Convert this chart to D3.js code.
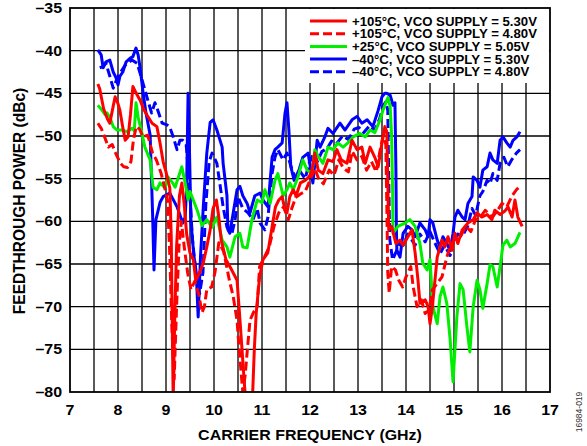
<!DOCTYPE html>
<html>
<head>
<meta charset="utf-8">
<script src="https://d3js.org/d3.v7.min.js"></script>
<style>
  body { margin: 0; background: #fff; }
  text { font-family: Arial, "Liberation Sans", Helvetica, sans-serif; font-weight: bold; fill: #000; }
</style>
</head>
<body>
<div id="viz"></div>
<script>
var width = 587;
var height = 446;

// data: [frequency GHz, feedthrough dBc]
var redSolid = [[7.58,-43.9],[7.62,-44.5],[7.7,-46.8],[7.78,-48.0],[7.83,-48.5],[7.9,-46.5],[7.94,-45.4],[8.0,-46.2],[8.04,-47.0],[8.1,-49.0],[8.15,-50.5],[8.21,-50.1],[8.26,-47.5],[8.31,-44.2],[8.38,-45.0],[8.46,-45.8],[8.53,-46.8],[8.6,-47.5],[8.71,-48.5],[8.81,-48.9],[8.875,-50.8],[8.94,-53.0],[9.0,-54.2],[9.08,-56.1],[9.11,-62],[9.13,-72],[9.15,-81],[9.18,-72],[9.22,-63],[9.28,-57],[9.33,-55.5],[9.38,-58],[9.43,-61.5],[9.5,-63.7],[9.57,-64.5],[9.62,-66.9],[9.7,-66],[9.78,-64.8],[9.85,-63],[9.92,-61],[9.98,-58.5],[10.05,-57.5],[10.1,-59.5],[10.15,-62.2],[10.25,-64.5],[10.35,-65.5],[10.48,-66.9],[10.53,-70.7],[10.58,-74.7],[10.62,-78],[10.66,-81],[10.8,-81],[10.84,-75],[10.88,-70.7],[10.95,-66.5],[11.02,-64.5],[11.12,-63.7],[11.2,-61],[11.28,-58.3],[11.35,-57.5],[11.42,-57.1],[11.48,-58.7],[11.52,-59.0],[11.58,-57.1],[11.65,-56.3],[11.71,-57.0],[11.8,-55.5],[11.9,-55.2],[11.98,-54.8],[12.04,-54.0],[12.1,-52.0],[12.17,-54.0],[12.27,-54.4],[12.375,-52.8],[12.48,-53.0],[12.56,-51.6],[12.65,-52.8],[12.77,-53.2],[12.875,-50.5],[12.98,-51.6],[13.08,-51.3],[13.15,-53.2],[13.25,-51.3],[13.35,-52.5],[13.42,-53.6],[13.5,-50.8],[13.56,-48.9],[13.6,-49.5],[13.62,-55],[13.64,-61],[13.7,-60.6],[13.79,-62.6],[13.875,-62.2],[13.94,-62.8],[14.04,-61.8],[14.125,-61.0],[14.19,-63.7],[14.25,-66.9],[14.29,-69.6],[14.4,-69.2],[14.46,-70.0],[14.5,-72],[14.55,-70],[14.65,-64.2],[14.75,-62.2],[14.81,-63],[14.875,-61.8],[14.96,-63.4],[15.02,-61.4],[15.08,-62.6],[15.17,-61],[15.23,-60.6],[15.29,-60.2],[15.4,-59.8],[15.48,-59.0],[15.58,-59.5],[15.69,-59.2],[15.79,-59.8],[15.85,-58.7],[15.96,-59.2],[16.06,-58.8],[16.125,-58.3],[16.21,-59.5],[16.27,-57.5],[16.33,-59.5],[16.42,-60.6]];

var redDashed = [[7.58,-48.5],[7.65,-49.1],[7.72,-50.1],[7.8,-51.3],[7.88,-51.0],[7.95,-52.0],[8.05,-53.2],[8.12,-53.6],[8.2,-53.7],[8.27,-53.0],[8.32,-50.5],[8.38,-48.9],[8.45,-49.2],[8.52,-50.1],[8.62,-49.9],[8.72,-52.0],[8.8,-52.8],[8.9,-54.4],[8.97,-56.0],[9.03,-57.5],[9.08,-64],[9.12,-72],[9.17,-78.5],[9.22,-70],[9.27,-63],[9.32,-60],[9.38,-63],[9.45,-66],[9.52,-68],[9.6,-67],[9.68,-68.5],[9.75,-70.7],[9.8,-70],[9.85,-68],[9.95,-67.7],[10.02,-66],[10.1,-62.5],[10.2,-63.5],[10.32,-66.9],[10.4,-68.8],[10.48,-71.6],[10.52,-74.7],[10.56,-77.4],[10.6,-80],[10.65,-78],[10.7,-74.7],[10.75,-71.6],[10.82,-70.7],[10.9,-70],[10.95,-65.3],[11.05,-64.2],[11.15,-63],[11.25,-60.6],[11.35,-59],[11.45,-58.3],[11.55,-59.8],[11.62,-58.5],[11.7,-57.2],[11.8,-56.8],[11.9,-56.5],[12.0,-55.2],[12.1,-53.8],[12.18,-55.0],[12.28,-55.6],[12.4,-54.0],[12.5,-54.6],[12.6,-52.8],[12.7,-53.8],[12.8,-54.2],[12.88,-51.8],[12.98,-52.8],[13.08,-52.4],[13.18,-54.0],[13.28,-53.0],[13.38,-54.2],[13.45,-52.0],[13.52,-50.0],[13.58,-51],[13.6,-58],[13.62,-66],[13.65,-68.4],[13.7,-65.3],[13.78,-65.7],[13.85,-66.9],[13.93,-67.7],[14.0,-66.5],[14.1,-65.3],[14.15,-67.7],[14.23,-70.0],[14.32,-69.2],[14.4,-70.8],[14.48,-70.4],[14.55,-68.0],[14.65,-67.3],[14.75,-66.5],[14.85,-64.2],[14.92,-63.0],[15.02,-62.0],[15.13,-61.8],[15.25,-60.6],[15.35,-61.2],[15.45,-59.8],[15.55,-59.5],[15.65,-58.7],[15.8,-59.5],[15.9,-58.8],[16.0,-57.9],[16.1,-58.3],[16.2,-57.1],[16.3,-56.3],[16.37,-55.9]];

var green = [[7.58,-46.4],[7.67,-47.0],[7.73,-47.5],[7.77,-47.3],[7.83,-47.8],[7.9,-48.9],[7.98,-49.3],[8.08,-49.3],[8.19,-49.5],[8.29,-49.1],[8.34,-49.4],[8.375,-46.1],[8.42,-47.8],[8.5,-49.7],[8.56,-51.3],[8.67,-52.8],[8.73,-56.0],[8.81,-56.3],[8.875,-55.5],[8.98,-56.1],[9.04,-54.8],[9.125,-55.4],[9.19,-56.0],[9.33,-53.6],[9.4,-55.5],[9.46,-57.5],[9.5,-56.5],[9.54,-57.1],[9.65,-58.7],[9.75,-60.5],[9.85,-59.8],[9.96,-60.7],[10.06,-59.5],[10.17,-62.2],[10.27,-63.0],[10.33,-64.2],[10.44,-61.8],[10.54,-61.4],[10.6,-63.0],[10.69,-63.1],[10.79,-59.8],[10.9,-57.5],[11.0,-57.8],[11.06,-56.3],[11.17,-57.9],[11.27,-55.2],[11.33,-54.4],[11.44,-57.0],[11.52,-56.3],[11.58,-55.5],[11.65,-56.3],[11.75,-54.8],[11.85,-52.8],[11.94,-54.0],[12.04,-54.4],[12.1,-51.6],[12.17,-52.4],[12.27,-53.2],[12.375,-51.3],[12.48,-51.6],[12.58,-50.8],[12.69,-51.3],[12.79,-50.8],[12.9,-50.1],[13.04,-49.7],[13.15,-50.1],[13.25,-49.3],[13.35,-49.6],[13.46,-48.1],[13.52,-47.0],[13.6,-45.8],[13.625,-45.5],[13.67,-46.5],[13.7,-50],[13.72,-56],[13.73,-61.4],[13.83,-60.6],[13.98,-60.2],[14.08,-59.8],[14.19,-60.6],[14.29,-62.6],[14.35,-64.9],[14.44,-65.7],[14.5,-64.5],[14.56,-70.0],[14.65,-72.0],[14.71,-68.8],[14.77,-67.7],[14.85,-69.6],[14.92,-73.9],[14.98,-78.8],[15.06,-71.2],[15.125,-67.3],[15.19,-68.0],[15.27,-72.4],[15.33,-75.3],[15.4,-70.0],[15.48,-66.9],[15.54,-68.0],[15.6,-70.2],[15.69,-67.3],[15.75,-65.1],[15.81,-65.3],[15.9,-67.7],[15.96,-65.3],[16.02,-62.8],[16.1,-62.2],[16.17,-63.0],[16.27,-62.6],[16.375,-61.3]];

var blueSolid = [[7.58,-39.9],[7.65,-40.5],[7.69,-42.0],[7.75,-41.3],[7.83,-41.1],[7.9,-42.5],[7.96,-43.2],[8.0,-44.0],[8.04,-43.0],[8.1,-42.5],[8.17,-41.3],[8.25,-40.9],[8.31,-40.7],[8.375,-39.7],[8.42,-40.5],[8.46,-42.0],[8.52,-44.8],[8.58,-47.2],[8.67,-49.9],[8.69,-53.7],[8.72,-59],[8.75,-65.7],[8.79,-59.8],[8.875,-57.8],[8.94,-57.1],[9.08,-56.7],[9.23,-58.3],[9.35,-60.2],[9.4,-59.5],[9.43,-56],[9.46,-45.0],[9.49,-52],[9.52,-60],[9.58,-64],[9.63,-66],[9.67,-71.2],[9.72,-64],[9.78,-58],[9.85,-52],[9.92,-48.4],[9.98,-48.1],[10.06,-49.3],[10.17,-51.3],[10.19,-53.2],[10.27,-57.0],[10.29,-61.0],[10.33,-61.4],[10.48,-56.3],[10.54,-55.9],[10.6,-57.0],[10.69,-57.9],[10.75,-59.0],[10.85,-57.0],[10.96,-56.7],[11.02,-57.5],[11.125,-58.3],[11.17,-55.2],[11.21,-52.5],[11.27,-51.6],[11.33,-51.3],[11.42,-50.8],[11.48,-47.3],[11.52,-46.1],[11.56,-49.3],[11.6,-53.6],[11.67,-55.2],[11.77,-54.0],[11.85,-52.5],[11.96,-52.0],[12.06,-55.5],[12.15,-50.5],[12.21,-51.3],[12.31,-50.1],[12.375,-49.1],[12.48,-49.7],[12.625,-48.5],[12.73,-49.3],[12.875,-48.1],[12.98,-47.7],[13.08,-48.5],[13.19,-48.1],[13.31,-48.9],[13.42,-47.0],[13.5,-45.4],[13.56,-45.0],[13.6,-45.0],[13.67,-45.2],[13.73,-46.4],[13.77,-46.1],[13.79,-54],[13.8,-61.0],[13.81,-63.4],[13.875,-64.2],[13.94,-61.4],[14.04,-60.6],[14.125,-61.0],[14.19,-61.8],[14.29,-60.2],[14.4,-61.0],[14.46,-61.8],[14.5,-59.8],[14.56,-60.2],[14.65,-62.2],[14.71,-63.0],[14.77,-61.8],[14.85,-62.6],[14.92,-63.4],[14.98,-61.4],[15.02,-59.5],[15.08,-58.7],[15.17,-59.5],[15.23,-59.8],[15.29,-57.9],[15.375,-57.1],[15.4,-54.8],[15.48,-55.2],[15.54,-56.0],[15.6,-54.0],[15.69,-53.6],[15.75,-52.0],[15.81,-52.8],[15.9,-53.2],[15.96,-50.5],[16.02,-50.1],[16.1,-50.8],[16.17,-51.3],[16.23,-50.5],[16.31,-50.1],[16.375,-49.5]];

var blueDashed = [[7.62,-42.0],[7.67,-41.9],[7.75,-41.5],[7.83,-43.0],[7.9,-44.4],[8.0,-43.0],[8.08,-42.3],[8.15,-41.7],[8.29,-41.1],[8.4,-41.5],[8.5,-43.4],[8.6,-45.4],[8.7,-47.3],[8.77,-46.1],[8.83,-47.0],[8.92,-48.5],[9.02,-48.7],[9.08,-49.0],[9.15,-50.1],[9.23,-51.6],[9.29,-50.5],[9.35,-50.5],[9.42,-51],[9.48,-55],[9.55,-62],[9.62,-66],[9.7,-68.5],[9.77,-66],[9.83,-58],[9.9,-53],[9.96,-52.0],[10.06,-53.2],[10.12,-55.5],[10.19,-58.3],[10.27,-60.7],[10.375,-61.4],[10.44,-59.8],[10.5,-57.1],[10.6,-58.5],[10.71,-59.0],[10.81,-59.8],[10.9,-58.5],[10.96,-60.2],[11.06,-61.0],[11.125,-59.5],[11.21,-54.4],[11.27,-52.5],[11.33,-51.6],[11.44,-52.8],[11.52,-52.0],[11.6,-53.5],[11.7,-55.0],[11.8,-54.2],[11.9,-55.0],[11.98,-53.2],[12.08,-52.0],[12.15,-53.0],[12.25,-51.8],[12.35,-51.5],[12.45,-50.6],[12.55,-50.9],[12.68,-50.0],[12.8,-50.4],[12.92,-49.2],[13.02,-49.0],[13.12,-49.6],[13.24,-48.8],[13.35,-49.3],[13.45,-48.0],[13.52,-46.5],[13.58,-46.0],[13.62,-47],[13.64,-55],[13.66,-62],[13.72,-64.5],[13.8,-63.5],[13.875,-62.5],[13.94,-62.8],[14.04,-61.5],[14.125,-62.2],[14.19,-62.8],[14.29,-61.5],[14.4,-62.4],[14.5,-61.2],[14.6,-62.5],[14.71,-63.8],[14.8,-62.8],[14.92,-64.0],[14.98,-62.4],[15.08,-61.5],[15.17,-61.8],[15.29,-60.5],[15.375,-58.5],[15.45,-59.3],[15.54,-57.0],[15.6,-56.5],[15.69,-55.2],[15.75,-55.6],[15.81,-54.4],[15.9,-55.2],[15.96,-53.2],[16.04,-52.5],[16.12,-53.6],[16.2,-52.8],[16.3,-52.0],[16.375,-51.6]];

var legendLabels = ["+105°C, VCO SUPPLY = 5.30V", "+105°C, VCO SUPPLY = 4.80V", "+25°C, VCO SUPPLY = 5.05V", "\u201340°C, VCO SUPPLY = 5.30V", "\u201340°C, VCO SUPPLY = 4.80V"];
var xTicks = [7, 8, 9, 10, 11, 12, 13, 14, 15, 16, 17];
var yTicks = [-80, -75, -70, -65, -60, -55, -50, -45, -40, -35];

var series = [
  {data: blueSolid, color: "#0000ff", dash: null, legend: 3},
  {data: blueDashed, color: "#0000ff", dash: "9,4", legend: 4},
  {data: green, color: "#00ee00", dash: null, legend: 2},
  {data: redDashed, color: "#ff0000", dash: "9,4", legend: 1},
  {data: redSolid, color: "#ff0000", dash: null, legend: 0}
];

var plotLeft = 70, plotRight = 550, plotTop = 8, plotBottom = 392;
var sx = 1.1; // text in the picture is a bit wide

var svg = d3.select("#viz")
  .append("svg")
  .attr("width", width)
  .attr("height", height);

var x = d3.scaleLinear().domain([7, 17]).range([plotLeft, plotRight]);
var y = d3.scaleLinear().domain([-80, -35]).range([plotBottom, plotTop]);

svg.append("clipPath").attr("id", "plot")
  .append("rect")
  .attr("x", plotLeft).attr("y", plotTop)
  .attr("width", plotRight - plotLeft).attr("height", plotBottom - plotTop);

// grid
svg.append("g")
  .selectAll("line")
  .data(d3.range(7.5, 17, 0.5))
  .enter().append("line")
  .attr("x1", function(d) { return x(d); })
  .attr("x2", function(d) { return x(d); })
  .attr("y1", plotTop).attr("y2", plotBottom)
  .attr("stroke", "#000").attr("stroke-width", 1.3);

svg.append("g")
  .selectAll("line")
  .data(yTicks.slice(1, -1))
  .enter().append("line")
  .attr("y1", function(d) { return y(d); })
  .attr("y2", function(d) { return y(d); })
  .attr("x1", plotLeft).attr("x2", plotRight)
  .attr("stroke", "#000").attr("stroke-width", 1.3);

// legend background hides the grid behind it
svg.append("rect")
  .attr("x", 305).attr("y", plotTop + 1)
  .attr("width", plotRight - 306).attr("height", 74)
  .attr("fill", "#fff");

// series
var line = d3.line()
  .x(function(d) { return x(d[0]); })
  .y(function(d) { return y(d[1]); });

svg.append("g")
  .attr("clip-path", "url(#plot)")
  .selectAll("path")
  .data(series)
  .enter().append("path")
  .attr("d", function(d) { return line(d.data); })
  .attr("fill", "none")
  .attr("stroke", function(d) { return d.color; })
  .attr("stroke-width", 3)
  .attr("stroke-linejoin", "round")
  .attr("stroke-dasharray", function(d) { return d.dash; });

// frame
svg.append("rect")
  .attr("x", plotLeft).attr("y", plotTop)
  .attr("width", plotRight - plotLeft).attr("height", plotBottom - plotTop)
  .attr("fill", "none").attr("stroke", "#000").attr("stroke-width", 1.8);

// tick labels
svg.append("g")
  .selectAll("text")
  .data(yTicks)
  .enter().append("text")
  .attr("transform", function(d) { return "translate(62," + (y(d) + 5) + ") scale(" + sx + ",1)"; })
  .attr("text-anchor", "end")
  .style("font-size", "14.5px")
  .text(function(d) { return d < 0 ? "\u2013" + (-d) : d; });

svg.append("g")
  .selectAll("text")
  .data(xTicks)
  .enter().append("text")
  .attr("transform", function(d) { return "translate(" + x(d) + ",415) scale(" + sx + ",1)"; })
  .attr("text-anchor", "middle")
  .style("font-size", "14.5px")
  .text(function(d) { return d; });

// axis titles
svg.append("text")
  .attr("transform", "translate(310,440) scale(" + sx + ",1)")
  .attr("text-anchor", "middle")
  .style("font-size", "14.5px")
  .text("CARRIER FREQUENCY (GHz)");

svg.append("text")
  .attr("transform", "translate(25,201) scale(" + sx + ",1) rotate(-90)")
  .attr("text-anchor", "middle")
  .style("font-size", "15.5px")
  .text("FEEDTHROUGH POWER (dBc)");

// legend
var legend = svg.append("g").attr("id", "legend");

var legenditem = legend.selectAll(".legenditem")
  .data(series)
  .enter().append("g")
  .attr("class", "legenditem")
  .attr("transform", function(d) { return "translate(0," + (21 + d.legend * 12.7) + ")"; });

legenditem.append("line")
  .attr("x1", 310).attr("x2", 347)
  .attr("y1", 0).attr("y2", 0)
  .attr("stroke", function(d) { return d.color; })
  .attr("stroke-width", 3)
  .attr("stroke-dasharray", function(d) { return d.dash; });

legenditem.append("text")
  .attr("transform", "translate(352,4.5) scale(" + sx + ",1)")
  .style("font-size", "12px")
  .text(function(d) { return legendLabels[d.legend]; });

// figure number
svg.append("text")
  .attr("transform", "translate(582,412) rotate(-90)")
  .attr("text-anchor", "middle")
  .style("font-size", "8.5px")
  .style("font-weight", "normal")
  .style("fill", "#333")
  .text("16984-019");
</script>
</body>
</html>
